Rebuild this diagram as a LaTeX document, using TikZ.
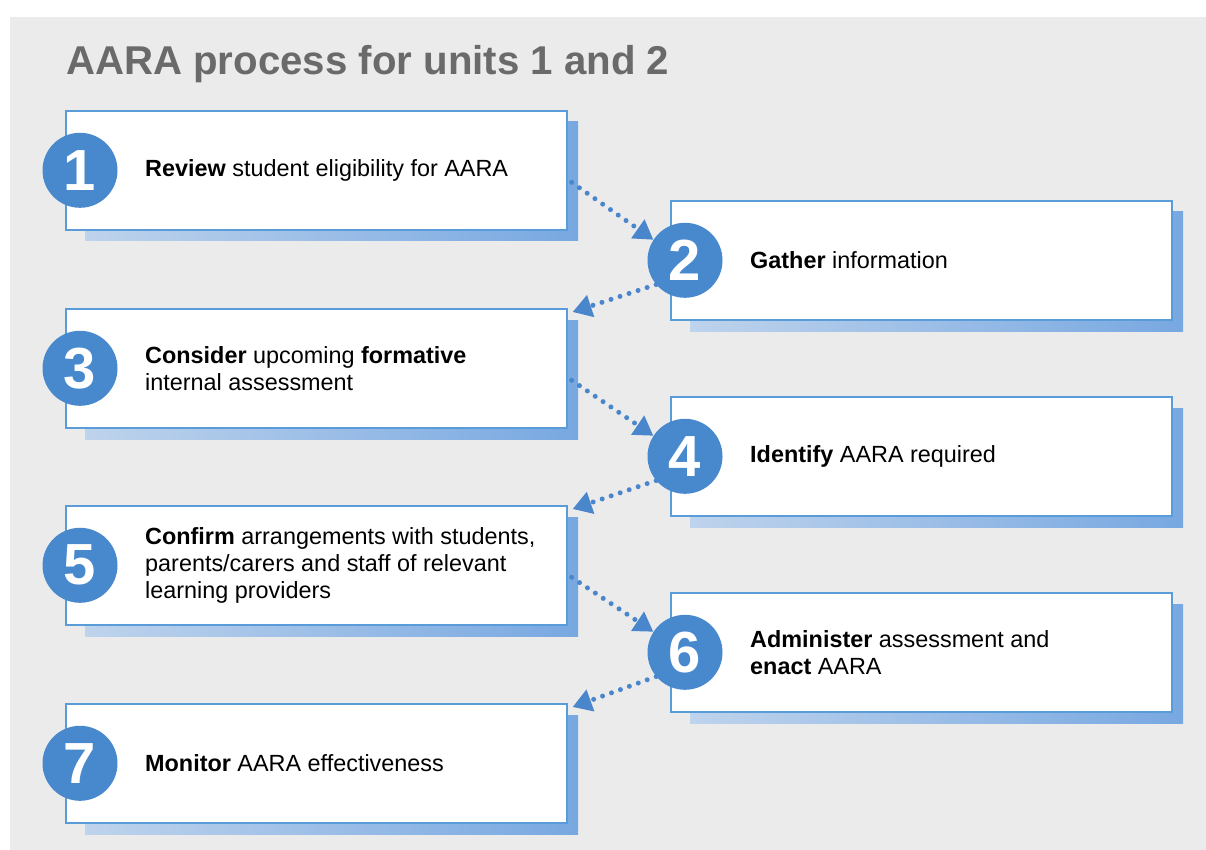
\documentclass[tikz,border=0pt]{standalone}
\usepackage{fontspec}
\setmainfont{Liberation Sans}
\usetikzlibrary{arrows.meta}
\definecolor{bg}{RGB}{235,235,235}
\definecolor{circ}{RGB}{72,137,206}
\definecolor{bord}{RGB}{90,155,218}
\definecolor{shadL}{RGB}{190,211,236}
\definecolor{shadR}{RGB}{120,168,225}
\definecolor{arr}{RGB}{74,134,204}
\definecolor{titlec}{RGB}{106,106,106}
\begin{document}
\begin{tikzpicture}[x=1pt,y=-1pt,
  stepbox/.style={draw=bord, line width=1.6pt, fill=white, minimum width=501pt, minimum height=119pt, anchor=north west, inner sep=0pt},
  num/.style={circle, fill=circ, minimum size=75pt, inner sep=0pt, text=white, font=\fontsize{58}{58}\selectfont\bfseries},
  lbl/.style={anchor=west, align=left, font=\fontsize{23.4}{27}\selectfont, inner sep=0pt, text=black},
  flow/.style={draw=arr, line width=5pt, dash pattern=on 0pt off 9.5pt, line cap=round, -{Triangle[length=19pt,width=22pt,fill=arr]}}
]
\useasboundingbox (0,0) rectangle (1206,850);
\fill[bg] (10,17) rectangle (1206,850);
\node[anchor=base west, inner sep=0pt, text=titlec, font=\fontsize{40.2}{40}\selectfont\bfseries] (title) at (66,75) {AARA process for units 1 and 2};
\foreach \i/\x/\y in {1/65/110, 2/670/200, 3/65/308, 4/670/396, 5/65/505, 6/670/592, 7/65/703}{
  \shade[left color=shadL, right color=shadR] (\x+20,\y+12) rectangle (\x+513,\y+131);
  \node[stepbox] (b\i) at (\x,\y) {};
  \node[num] (c\i) at ([xshift=15pt]b\i.west) {\i};
}
\node[lbl] (t1) at ([xshift=80pt]b1.west) {\textbf{Review} student eligibility for AARA};
\node[lbl] (t2) at ([xshift=80pt]b2.west) {\textbf{Gather} information};
\node[lbl] (t3) at ([xshift=80pt]b3.west) {\textbf{Consider} upcoming \textbf{formative}\\internal assessment};
\node[lbl] (t4) at ([xshift=80pt]b4.west) {\textbf{Identify} AARA required};
\node[lbl] (t5) at ([xshift=80pt]b5.west) {\textbf{Confirm} arrangements with students,\\parents/carers and staff of relevant\\learning providers};
\node[lbl] (t6) at ([xshift=80pt]b6.west) {\textbf{Administer} assessment and\\\textbf{enact} AARA};
\node[lbl] (t7) at ([xshift=80pt]b7.west) {\textbf{Monitor} AARA effectiveness};
\draw[flow] ([xshift=4pt,yshift=-12pt]b1.east) -- (c2.147);
\draw[flow] (c2.220) -- ([xshift=5pt,yshift=-4pt]b3.north east);
\draw[flow] ([xshift=4pt,yshift=-12pt]b3.east) -- (c4.147);
\draw[flow] (c4.220) -- ([xshift=5pt,yshift=-4pt]b5.north east);
\draw[flow] ([xshift=4pt,yshift=-12pt]b5.east) -- (c6.147);
\draw[flow] (c6.220) -- ([xshift=5pt,yshift=-4pt]b7.north east);
\end{tikzpicture}
\end{document}
